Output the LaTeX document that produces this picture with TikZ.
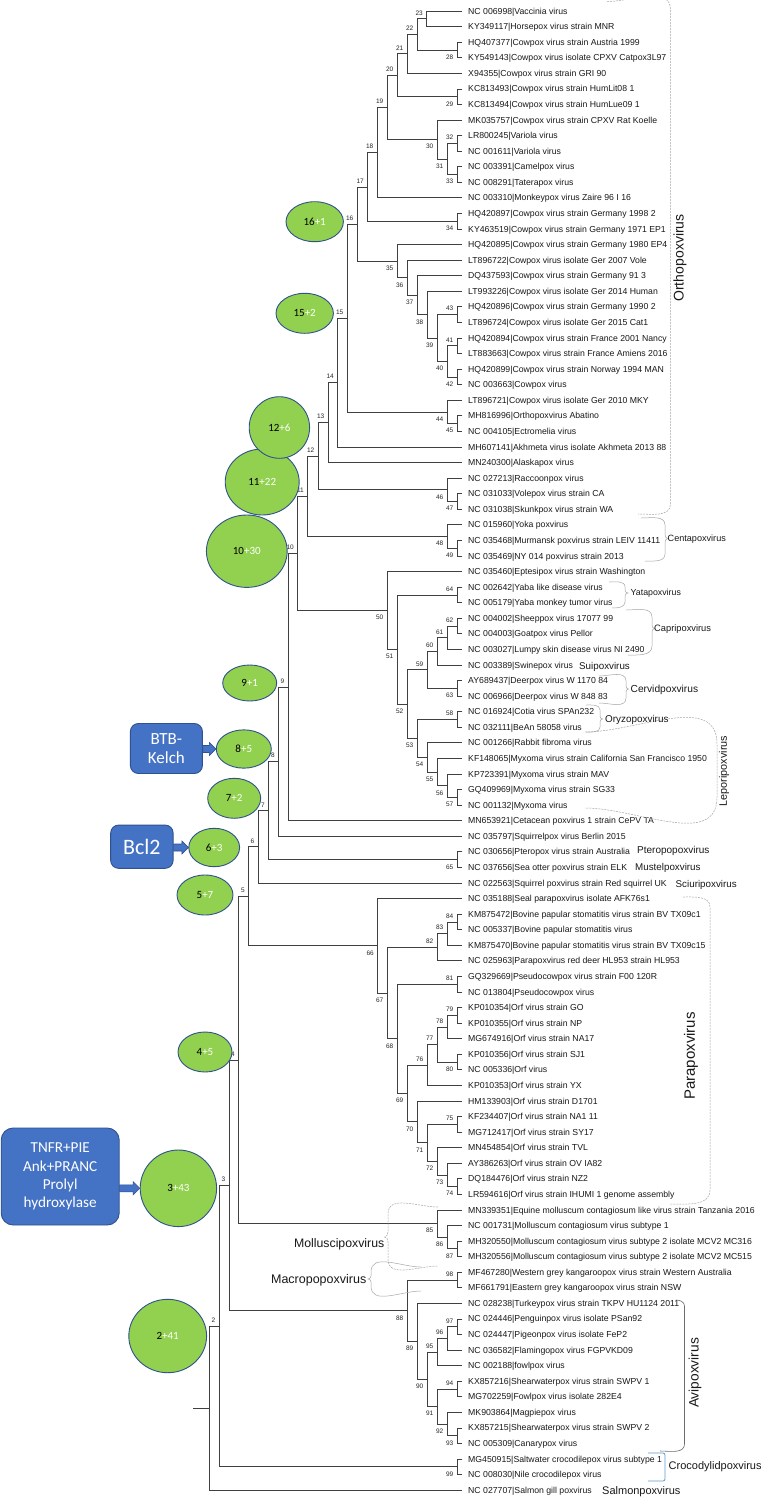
\documentclass[tikz,border=0pt]{standalone}
\usepackage{fontspec}
\setmainfont{Liberation Sans}
\newfontfamily\carl{Carlito}
\usetikzlibrary{calc,shapes.geometric}
\definecolor{boxblue}{HTML}{4472C4}
\definecolor{edgeblue}{HTML}{2F528F}
\definecolor{elgreen}{HTML}{92D050}
\definecolor{brblue}{HTML}{5B9BD5}
\definecolor{treegray}{HTML}{404040}
\tikzset{
  br/.style={draw=treegray, line width=0.7pt},
  nlab/.style={font=\fontsize{6.5}{6.5}\selectfont, inner sep=0.5pt, text=black!85},
  lup/.style={anchor=south east, xshift=-3pt, yshift=2.9pt},
  ldn/.style={anchor=north east, xshift=-3pt, yshift=-4.2pt},
  leaf/.style={anchor=base west, inner sep=0pt, xshift=6pt, yshift=-3.1pt, font=\fontsize{8.7}{10}\selectfont, text=black!90},
  ell/.style={ellipse, draw=edgeblue, line width=0.9pt, fill=elgreen, inner sep=0pt, font=\carl\fontsize{11}{12}\selectfont},
  bbox/.style={draw=edgeblue, line width=0.9pt, fill=boxblue, text=white, align=center, inner sep=0pt},
  brk/.style={draw=gray!70, line width=0.5pt},
  brkd/.style={draw=gray!70, line width=0.5pt, dash pattern=on 2pt off 1pt},
  barr/.style={fill=boxblue, draw=edgeblue, line width=0.6pt},
  glab/.style={inner sep=0pt, text=black!90},
}
\newcommand\inode[5]{%
  \path let \p1=(#3), \p2=(#4) in (#2pt, {0.5*\y1+0.5*\y2}) coordinate (n#1);
  \draw[br] (#3) -- (n#1 |- #3) -- (n#1 |- #4) -- (#4);
  \node[nlab,#5] (lab#1) at (n#1) {#1};
}
\newcommand\gl[5]{\node[glab, anchor=base west, font=\fontsize{#4}{#4}\selectfont] (#1) at (#2, {#3+0.36*#4}) {#5};}
\newcommand\barrow[2]{%
  \filldraw[barr] let \p1=(#1.east), \p2=(#2.west), \p3=(#2.center) in
   (\x1,\y3+3.5pt) -- (\x2-6.5pt,\y3+3.5pt) -- (\x2-6.5pt,\y3+6.5pt) -- (\x2,\y3) --
   (\x2-6.5pt,\y3-6.5pt) -- (\x2-6.5pt,\y3-3.5pt) -- (\x1,\y3-3.5pt) -- cycle;}
\begin{document}
\begin{tikzpicture}[x=1pt,y=-1pt]
\fill[white] (0,0) rectangle (761,1499);
\useasboundingbox (0,0) rectangle (761,1499);
\foreach \i in {1,...,96} {\coordinate (l\i) at (462, {11+(\i-1)*15.57});}
% ---------------- tree ----------------
\inode{23}{426.5}{l1}{l2}{lup}
\inode{28}{457}{l3}{l4}{ldn}
\inode{22}{417}{n23}{n28}{lup}
\inode{21}{407}{n22}{l5}{lup}
\inode{29}{457}{l6}{l7}{ldn}
\inode{20}{397}{n21}{n29}{lup}
\inode{32}{457}{l9}{l10}{lup}
\inode{33}{457}{l11}{l12}{ldn}
\inode{31}{447}{n32}{n33}{ldn}
\inode{30}{437}{l8}{n31}{ldn}
\inode{19}{387}{n20}{n30}{lup}
\inode{18}{377}{n19}{l13}{lup}
\inode{34}{457}{l14}{l15}{ldn}
\inode{17}{367.5}{n18}{n34}{lup}
\inode{43}{457}{l20}{l21}{lup}
\inode{41}{457}{l22}{l23}{lup}
\inode{42}{457}{l24}{l25}{ldn}
\inode{40}{447}{n41}{n42}{ldn}
\inode{39}{437}{n43}{n40}{ldn}
\inode{38}{427}{l19}{n39}{ldn}
\inode{37}{417}{l18}{n38}{ldn}
\inode{36}{407}{l17}{n37}{ldn}
\inode{35}{397}{l16}{n36}{ldn}
\inode{16}{357}{n17}{n35}{lup}
\inode{45}{457}{l27}{l28}{ldn}
\inode{44}{447}{l26}{n45}{ldn}
\inode{15}{347}{n16}{n44}{lup}
\inode{14}{337.5}{n15}{l29}{lup}
\inode{13}{328}{n14}{l30}{lup}
\inode{47}{457}{l32}{l33}{ldn}
\inode{46}{447}{l31}{n47}{ldn}
\inode{12}{318}{n13}{n46}{lup}
\inode{49}{457}{l35}{l36}{ldn}
\inode{48}{447}{l34}{n49}{ldn}
\inode{11}{307.5}{n12}{n48}{lup}
\inode{64}{457}{l38}{l39}{lup}
\inode{62}{457}{l40}{l41}{lup}
\inode{61}{447}{n62}{l42}{lup}
\inode{60}{437}{n61}{l43}{lup}
\inode{63}{457}{l44}{l45}{ldn}
\inode{59}{427}{n60}{n63}{lup}
\inode{58}{457}{l46}{l47}{lup}
\inode{57}{457}{l51}{l52}{ldn}
\inode{56}{447}{l50}{n57}{ldn}
\inode{55}{437}{l49}{n56}{ldn}
\inode{54}{427}{l48}{n55}{ldn}
\inode{53}{417}{n58}{n54}{ldn}
\inode{52}{407}{n59}{n53}{ldn}
\inode{51}{397}{n64}{n52}{ldn}
\inode{50}{387}{l37}{n51}{ldn}
\inode{10}{297.5}{n11}{n50}{lup}
\inode{9}{288}{n10}{l53}{lup}
\inode{8}{278.5}{n9}{l54}{lup}
\inode{65}{457}{l55}{l56}{ldn}
\inode{7}{268.5}{n8}{n65}{lup}
\inode{6}{258}{n7}{l57}{lup}
\inode{84}{457}{l59}{l60}{lup}
\inode{83}{447}{n84}{l61}{lup}
\inode{82}{437}{n83}{l62}{lup}
\inode{81}{457}{l63}{l64}{lup}
\inode{79}{457}{l65}{l66}{lup}
\inode{78}{447}{n79}{l67}{lup}
\inode{80}{457}{l68}{l69}{ldn}
\inode{77}{437}{n78}{n80}{lup}
\inode{76}{427}{n77}{l70}{lup}
\inode{75}{457}{l72}{l73}{lup}
\inode{74}{457}{l76}{l77}{ldn}
\inode{73}{447}{l75}{n74}{ldn}
\inode{72}{437}{l74}{n73}{ldn}
\inode{71}{427}{n75}{n72}{ldn}
\inode{70}{417}{l71}{n71}{ldn}
\inode{69}{407}{n76}{n70}{ldn}
\inode{68}{397}{n81}{n69}{ldn}
\inode{67}{387}{n82}{n68}{ldn}
\inode{66}{377.5}{l58}{n67}{ldn}
\inode{5}{248.5}{n6}{n66}{lup}
\inode{87}{457}{l80}{l81}{ldn}
\inode{86}{447}{l79}{n87}{ldn}
\inode{85}{437}{l78}{n86}{ldn}
\inode{4}{238.5}{n5}{n85}{lup}
\inode{98}{457}{l82}{l83}{lup}
\inode{97}{457}{l85}{l86}{lup}
\inode{96}{447}{n97}{l87}{lup}
\inode{95}{437}{n96}{l88}{lup}
\inode{94}{457}{l89}{l90}{lup}
\inode{93}{457}{l92}{l93}{ldn}
\inode{92}{447}{l91}{n93}{ldn}
\inode{91}{437}{n94}{n92}{ldn}
\inode{90}{427}{n95}{n91}{ldn}
\inode{89}{417}{l84}{n90}{ldn}
\inode{88}{407}{n98}{n89}{ldn}
\inode{3}{229}{n4}{n88}{lup}
\inode{99}{457}{l94}{l95}{ldn}
\inode{2}{219}{n3}{n99}{lup}
\path let \p1=(n2), \p2=(l96) in (209.5pt, {0.5*\y1+0.5*\y2}) coordinate (n1);
\draw[br] (n2) -- (n1 |- n2) -- (n1 |- l96) -- (l96);
\coordinate (root) at ($(n1)+(-16.5,0)$);
\draw[br] (root) -- (n1);
% ---------------- leaf labels ----------------
\node[leaf] (t1) at (l1) {NC 006998|Vaccinia virus};
\node[leaf] (t2) at (l2) {KY349117|Horsepox virus strain MNR};
\node[leaf] (t3) at (l3) {HQ407377|Cowpox virus strain Austria 1999};
\node[leaf] (t4) at (l4) {KY549143|Cowpox virus isolate CPXV Catpox3L97};
\node[leaf] (t5) at (l5) {X94355|Cowpox virus strain GRI 90};
\node[leaf] (t6) at (l6) {KC813493|Cowpox virus strain HumLit08 1};
\node[leaf] (t7) at (l7) {KC813494|Cowpox virus strain HumLue09 1};
\node[leaf] (t8) at (l8) {MK035757|Cowpox virus strain CPXV Rat Koelle};
\node[leaf] (t9) at (l9) {LR800245|Variola virus};
\node[leaf] (t10) at (l10) {NC 001611|Variola virus};
\node[leaf] (t11) at (l11) {NC 003391|Camelpox virus};
\node[leaf] (t12) at (l12) {NC 008291|Taterapox virus};
\node[leaf] (t13) at (l13) {NC 003310|Monkeypox virus Zaire 96 I 16};
\node[leaf] (t14) at (l14) {HQ420897|Cowpox virus strain Germany 1998 2};
\node[leaf] (t15) at (l15) {KY463519|Cowpox virus strain Germany 1971 EP1};
\node[leaf] (t16) at (l16) {HQ420895|Cowpox virus strain Germany 1980 EP4};
\node[leaf] (t17) at (l17) {LT896722|Cowpox virus isolate Ger 2007 Vole};
\node[leaf] (t18) at (l18) {DQ437593|Cowpox virus strain Germany 91 3};
\node[leaf] (t19) at (l19) {LT993226|Cowpox virus isolate Ger 2014 Human};
\node[leaf] (t20) at (l20) {HQ420896|Cowpox virus strain Germany 1990 2};
\node[leaf] (t21) at (l21) {LT896724|Cowpox virus isolate Ger 2015 Cat1};
\node[leaf] (t22) at (l22) {HQ420894|Cowpox virus strain France 2001 Nancy};
\node[leaf] (t23) at (l23) {LT883663|Cowpox virus strain France Amiens 2016};
\node[leaf] (t24) at (l24) {HQ420899|Cowpox virus strain Norway 1994 MAN};
\node[leaf] (t25) at (l25) {NC 003663|Cowpox virus};
\node[leaf] (t26) at (l26) {LT896721|Cowpox virus isolate Ger 2010 MKY};
\node[leaf] (t27) at (l27) {MH816996|Orthopoxvirus Abatino};
\node[leaf] (t28) at (l28) {NC 004105|Ectromelia virus};
\node[leaf] (t29) at (l29) {MH607141|Akhmeta virus isolate Akhmeta 2013 88};
\node[leaf] (t30) at (l30) {MN240300|Alaskapox virus};
\node[leaf] (t31) at (l31) {NC 027213|Raccoonpox virus};
\node[leaf] (t32) at (l32) {NC 031033|Volepox virus strain CA};
\node[leaf] (t33) at (l33) {NC 031038|Skunkpox virus strain WA};
\node[leaf] (t34) at (l34) {NC 015960|Yoka poxvirus};
\node[leaf] (t35) at (l35) {NC 035468|Murmansk poxvirus strain LEIV 11411};
\node[leaf] (t36) at (l36) {NC 035469|NY 014 poxvirus strain 2013};
\node[leaf] (t37) at (l37) {NC 035460|Eptesipox virus strain Washington};
\node[leaf] (t38) at (l38) {NC 002642|Yaba like disease virus};
\node[leaf] (t39) at (l39) {NC 005179|Yaba monkey tumor virus};
\node[leaf] (t40) at (l40) {NC 004002|Sheeppox virus 17077 99};
\node[leaf] (t41) at (l41) {NC 004003|Goatpox virus Pellor};
\node[leaf] (t42) at (l42) {NC 003027|Lumpy skin disease virus NI 2490};
\node[leaf] (t43) at (l43) {NC 003389|Swinepox virus};
\node[leaf] (t44) at (l44) {AY689437|Deerpox virus W 1170 84};
\node[leaf] (t45) at (l45) {NC 006966|Deerpox virus W 848 83};
\node[leaf] (t46) at (l46) {NC 016924|Cotia virus SPAn232};
\node[leaf] (t47) at (l47) {NC 032111|BeAn 58058 virus};
\node[leaf] (t48) at (l48) {NC 001266|Rabbit fibroma virus};
\node[leaf] (t49) at (l49) {KF148065|Myxoma virus strain California San Francisco 1950};
\node[leaf] (t50) at (l50) {KP723391|Myxoma virus strain MAV};
\node[leaf] (t51) at (l51) {GQ409969|Myxoma virus strain SG33};
\node[leaf] (t52) at (l52) {NC 001132|Myxoma virus};
\node[leaf] (t53) at (l53) {MN653921|Cetacean poxvirus 1 strain CePV TA};
\node[leaf] (t54) at (l54) {NC 035797|Squirrelpox virus Berlin 2015};
\node[leaf] (t55) at (l55) {NC 030656|Pteropox virus strain Australia};
\node[leaf] (t56) at (l56) {NC 037656|Sea otter poxvirus strain ELK};
\node[leaf] (t57) at (l57) {NC 022563|Squirrel poxvirus strain Red squirrel UK};
\node[leaf] (t58) at (l58) {NC 035188|Seal parapoxvirus isolate AFK76s1};
\node[leaf] (t59) at (l59) {KM875472|Bovine papular stomatitis virus strain BV TX09c1};
\node[leaf] (t60) at (l60) {NC 005337|Bovine papular stomatitis virus};
\node[leaf] (t61) at (l61) {KM875470|Bovine papular stomatitis virus strain BV TX09c15};
\node[leaf] (t62) at (l62) {NC 025963|Parapoxvirus red deer HL953 strain HL953};
\node[leaf] (t63) at (l63) {GQ329669|Pseudocowpox virus strain F00 120R};
\node[leaf] (t64) at (l64) {NC 013804|Pseudocowpox virus};
\node[leaf] (t65) at (l65) {KP010354|Orf virus strain GO};
\node[leaf] (t66) at (l66) {KP010355|Orf virus strain NP};
\node[leaf] (t67) at (l67) {MG674916|Orf virus strain NA17};
\node[leaf] (t68) at (l68) {KP010356|Orf virus strain SJ1};
\node[leaf] (t69) at (l69) {NC 005336|Orf virus};
\node[leaf] (t70) at (l70) {KP010353|Orf virus strain YX};
\node[leaf] (t71) at (l71) {HM133903|Orf virus strain D1701};
\node[leaf] (t72) at (l72) {KF234407|Orf virus strain NA1 11};
\node[leaf] (t73) at (l73) {MG712417|Orf virus strain SY17};
\node[leaf] (t74) at (l74) {MN454854|Orf virus strain TVL};
\node[leaf] (t75) at (l75) {AY386263|Orf virus strain OV IA82};
\node[leaf] (t76) at (l76) {DQ184476|Orf virus strain NZ2};
\node[leaf] (t77) at (l77) {LR594616|Orf virus strain IHUMI 1 genome assembly};
\node[leaf] (t78) at (l78) {MN339351|Equine molluscum contagiosum like virus strain Tanzania 2016};
\node[leaf] (t79) at (l79) {NC 001731|Molluscum contagiosum virus subtype 1};
\node[leaf] (t80) at (l80) {MH320550|Molluscum contagiosum virus subtype 2 isolate MCV2 MC316};
\node[leaf] (t81) at (l81) {MH320556|Molluscum contagiosum virus subtype 2 isolate MCV2 MC515};
\node[leaf] (t82) at (l82) {MF467280|Western grey kangaroopox virus strain Western Australia};
\node[leaf] (t83) at (l83) {MF661791|Eastern grey kangaroopox virus strain NSW};
\node[leaf] (t84) at (l84) {NC 028238|Turkeypox virus strain TKPV HU1124 2011};
\node[leaf] (t85) at (l85) {NC 024446|Penguinpox virus isolate PSan92};
\node[leaf] (t86) at (l86) {NC 024447|Pigeonpox virus isolate FeP2};
\node[leaf] (t87) at (l87) {NC 036582|Flamingopox virus FGPVKD09};
\node[leaf] (t88) at (l88) {NC 002188|fowlpox virus};
\node[leaf] (t89) at (l89) {KX857216|Shearwaterpox virus strain SWPV 1};
\node[leaf] (t90) at (l90) {MG702259|Fowlpox virus isolate 282E4};
\node[leaf] (t91) at (l91) {MK903864|Magpiepox virus};
\node[leaf] (t92) at (l92) {KX857215|Shearwaterpox virus strain SWPV 2};
\node[leaf] (t93) at (l93) {NC 005309|Canarypox virus};
\node[leaf] (t94) at (l94) {MG450915|Saltwater crocodilepox virus subtype 1};
\node[leaf] (t95) at (l95) {NC 008030|Nile crocodilepox virus};
\node[leaf] (t96) at (l96) {NC 027707|Salmon gill poxvirus};
% ---------------- brackets ----------------
\draw[brkd] (607,1.5) to[out=0,in=90] (670.5,10) -- (670.5,504) to[out=-90,in=0] (638,514);
\draw[brk] (641,518) to[out=0,in=90] (665,525) -- (665,534) to[out=-90,in=180] (667.5,538.5) to[out=180,in=90] (665,543) -- (665,554) to[out=-90,in=0] (645,561);
\draw[brk] (609,582) to[out=0,in=90] (625,587) -- (625,590) to[out=-90,in=180] (628,593) to[out=180,in=90] (625,596) -- (625,602) to[out=-90,in=0] (612,608);
\draw[brk] (626,610) to[out=0,in=90] (652,617) -- (652,625) to[out=-90,in=180] (654.5,628.5) to[out=180,in=90] (652,632) -- (652,646) to[out=-90,in=0] (628,655);
\draw[brk] (599,676) to[out=0,in=90] (626,681) -- (626,686) to[out=-90,in=180] (628.5,689) to[out=180,in=90] (626,692) -- (626,698) to[out=-90,in=0] (599,703);
\draw[brk] (586,705) to[out=0,in=90] (600,710) -- (600,716) to[out=-90,in=180] (602.5,719) to[out=180,in=90] (600,722) -- (600,727) to[out=-90,in=0] (586,732);
\draw[brkd] (585,732) to[out=0,in=90] (717,744) -- (717,797) to[out=-90,in=0] (585,808);
\draw[brkd] (683,897) to[out=0,in=90] (710,907) -- (710,1190) to[out=-90,in=0] (670,1204);
\draw[brkd] (438,1207) to[out=180,in=90] (388,1214) -- (388,1232) to[out=-90,in=0] (384.5,1237) to[out=0,in=90] (388,1242) -- (388,1259) to[out=-90,in=180] (438,1266);
\draw[brk] (421,1267) to[out=180,in=90] (371,1272) -- (371,1276) to[out=-90,in=0] (368,1279) to[out=0,in=90] (371,1282) -- (371,1286) to[out=-90,in=180] (421,1291);
\draw[draw=gray!85!black, line width=0.6pt] (676,1300) to[out=0,in=90] (684.5,1306) -- (684.5,1444) to[out=-90,in=0] (660,1451);
\draw[draw=brblue, line width=0.8pt, rounded corners=2pt] (648,1453) -- (665,1453) -- (665,1481) -- (648,1481);
% ---------------- genus labels ----------------
\node[glab, rotate=90, font=\fontsize{14}{14}\selectfont] (gortho) at (680,258) {Orthopoxvirus};
\gl{gcenta}{667.5}{538}{9.1}{Centapoxvirus}
\gl{gyata}{630.5}{592}{8.8}{Yatapoxvirus}
\gl{gcapri}{654}{628.5}{9.3}{Capripoxvirus}
\gl{gsui}{579}{666}{9.8}{Suipoxvirus}
\gl{gcervid}{630.5}{688.5}{10.2}{Cervidpoxvirus}
\gl{goryzo}{605}{719}{9.9}{Oryzopoxvirus}
\node[glab, rotate=90, font=\fontsize{10.8}{10.8}\selectfont] (glepori) at (724,771) {Leporipoxvirus};
\gl{gptero}{637}{850}{10}{Pteropopoxvirus}
\gl{gmustel}{635}{867}{9.8}{Mustelpoxvirus}
\gl{gsciuri}{675.5}{884}{9.8}{Sciuripoxvirus}
\node[glab, rotate=90, font=\fontsize{15}{15}\selectfont] (gpara) at (691,1056) {Parapoxvirus};
\node[glab, anchor=base east, font=\fontsize{12.3}{12.3}\selectfont] (gmollus) at (384.5,1247.5) {Molluscipoxvirus};
\node[glab, anchor=base east, font=\fontsize{12.5}{12.5}\selectfont] (gmacro) at (366.5,1283.5) {Macropopoxvirus};
\node[glab, rotate=90, font=\fontsize{13.7}{13.7}\selectfont] (gavi) at (695,1373) {Avipoxvirus};
\gl{gcroc}{668.5}{1466}{11}{Crocodylidpoxvirus}
\gl{gsalmon}{602}{1491}{11}{Salmonpoxvirus}
% ---------------- ellipses ----------------
\node[ell, minimum width=57.4pt, minimum height=40pt] (e16) at (314.7,221.7) {16\textcolor{white}{+1}};
\node[ell, minimum width=57.4pt, minimum height=40pt] (e15) at (304.7,313.3) {15\textcolor{white}{+2}};
\node[ell, minimum width=80.8pt, minimum height=72.4pt] (e10) at (246.8,551.2) {10\textcolor{white}{+30}};
\node[ell, minimum width=74pt, minimum height=66pt] (e11) at (262.2,482) {11\textcolor{white}{+22}};
\node[ell, minimum width=60.4pt, minimum height=61.6pt] (e12) at (279.4,427.5) {12\textcolor{white}{+6}};
\node[ell, minimum width=54pt, minimum height=36pt] (e9) at (249.7,683) {9\textcolor{white}{+1}};
\node[ell, minimum width=55pt, minimum height=38.3pt] (e8) at (243.8,749) {8\textcolor{white}{+5}};
\node[ell, minimum width=53pt, minimum height=40pt] (e7) at (234.2,798.3) {7\textcolor{white}{+2}};
\node[ell, minimum width=50.8pt, minimum height=38.4pt] (e6) at (214.2,847.5) {6\textcolor{white}{+3}};
\node[ell, minimum width=56pt, minimum height=40pt] (e5) at (205,895) {5\textcolor{white}{+7}};
\node[ell, minimum width=54pt, minimum height=40pt] (e4) at (205,1052) {4\textcolor{white}{+5}};
\node[ell, minimum width=76.4pt, minimum height=76.6pt] (e3) at (178.4,1188.3) {3\textcolor{white}{+43}};
\node[ell, minimum width=77.8pt, minimum height=73.4pt] (e2) at (167.7,1336) {2\textcolor{white}{+41}};
% ---------------- blue boxes ----------------
\node[bbox, rounded corners=8pt, minimum width=72pt, minimum height=50pt, font=\carl\fontsize{17}{19.5}\selectfont] (btb) at (166.4,748.5) {BTB-\\Kelch};
\node[bbox, rounded corners=8pt, minimum width=62.5pt, minimum height=43.3pt, font=\carl\fontsize{22}{24}\selectfont] (bcl) at (141.9,846.7) {Bcl2};
\node[bbox, rounded corners=12pt, minimum width=118pt, minimum height=97pt, font=\carl\fontsize{15.2}{18.3}\selectfont] (tnfr) at (60.2,1176.5) {TNFR+PIE\\Ank+PRANC\\Prolyl\\hydroxylase};
\barrow{btb}{e8}
\barrow{bcl}{e6}
\barrow{tnfr}{e3}
\end{tikzpicture}
\end{document}
